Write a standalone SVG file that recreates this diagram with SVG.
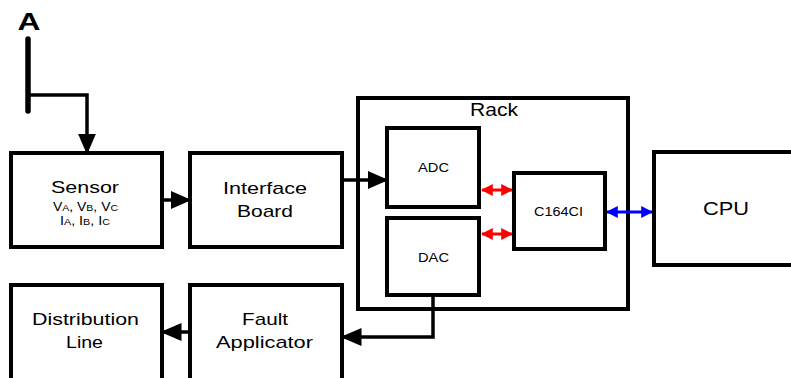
<svg xmlns="http://www.w3.org/2000/svg" width="791" height="378" viewBox="0 0 791 378">
<style>
.box{fill:#fff;stroke:#000;stroke-width:4}
.ln{fill:none;stroke:#000;stroke-width:3.5}
.t{font-family:"Liberation Sans",Arial,sans-serif;fill:#000;text-anchor:middle}
</style>
<defs>
<marker id="ah" markerWidth="6" markerHeight="6" refX="5" refY="3" orient="auto" markerUnits="strokeWidth"><path d="M0,0.4 L6,3 L0,5.6 z" fill="#000"/></marker>
<marker id="rh" viewBox="0 0 10 10" markerWidth="4" markerHeight="4" refX="9" refY="5" orient="auto-start-reverse" markerUnits="strokeWidth"><path d="M0,0 L10,5 L0,10 z" fill="#f00"/></marker>
<marker id="bh" viewBox="0 0 10 10" markerWidth="4" markerHeight="4" refX="9" refY="5" orient="auto-start-reverse" markerUnits="strokeWidth"><path d="M0,0 L10,5 L0,10 z" fill="#00f"/></marker>
</defs>
<rect width="791" height="378" fill="#fff"/>
<g id="source">
<text class="t" x="29" y="30" font-size="24" font-weight="bold" textLength="23" lengthAdjust="spacingAndGlyphs">A</text>
<line x1="28" y1="39" x2="28" y2="111" stroke="#000" stroke-width="5.5" stroke-linecap="round"/>
</g>
<g id="rack">
<rect class="box" x="358" y="98" width="270" height="211"/>
<text class="t" x="494" y="116" font-size="17.5" textLength="48" lengthAdjust="spacingAndGlyphs">Rack</text>
</g>
<g id="sensor">
<rect class="box" x="11" y="153" width="151" height="94"/>
<text class="t" x="85" y="193" font-size="17" textLength="68" lengthAdjust="spacingAndGlyphs">Sensor</text>
<text class="t" x="85.5" y="211" font-size="12" textLength="65" lengthAdjust="spacingAndGlyphs">V<tspan font-size="9">A</tspan>, V<tspan font-size="9">B</tspan>, V<tspan font-size="9">C</tspan></text>
<text class="t" x="85" y="225" font-size="12" textLength="50" lengthAdjust="spacingAndGlyphs">I<tspan font-size="9">A</tspan>, I<tspan font-size="9">B</tspan>, I<tspan font-size="9">C</tspan></text>
</g>
<g id="interface">
<rect class="box" x="190" y="153" width="152" height="94"/>
<text class="t" x="265" y="194" font-size="17" textLength="84" lengthAdjust="spacingAndGlyphs">Interface</text>
<text class="t" x="265" y="217" font-size="17" textLength="56" lengthAdjust="spacingAndGlyphs">Board</text>
</g>
<g id="adc">
<rect class="box" x="387" y="128" width="92" height="79"/>
<text class="t" x="433.5" y="172" font-size="12.5" textLength="31" lengthAdjust="spacingAndGlyphs">ADC</text>
</g>
<g id="dac">
<rect class="box" x="387" y="218" width="92" height="77"/>
<text class="t" x="433.5" y="262" font-size="12.5" textLength="31" lengthAdjust="spacingAndGlyphs">DAC</text>
</g>
<g id="c164ci">
<rect class="box" x="514" y="173" width="91" height="76"/>
<text class="t" x="558.5" y="216" font-size="12.5" textLength="49" lengthAdjust="spacingAndGlyphs">C164CI</text>
</g>
<g id="cpu">
<rect class="box" x="654" y="152" width="150" height="113"/>
<text class="t" x="726" y="215" font-size="19" textLength="46" lengthAdjust="spacingAndGlyphs">CPU</text>
</g>
<g id="distribution">
<rect class="box" x="11" y="285" width="151" height="100"/>
<text class="t" x="85.5" y="325" font-size="17" textLength="107" lengthAdjust="spacingAndGlyphs">Distribution</text>
<text class="t" x="84.5" y="348" font-size="17" textLength="37" lengthAdjust="spacingAndGlyphs">Line</text>
</g>
<g id="fault">
<rect class="box" x="190" y="285" width="152" height="100"/>
<text class="t" x="265" y="325" font-size="17" textLength="46" lengthAdjust="spacingAndGlyphs">Fault</text>
<text class="t" x="264.5" y="348" font-size="17" textLength="97" lengthAdjust="spacingAndGlyphs">Applicator</text>
</g>
<g id="connectors">
<path class="ln" d="M28,95 H87 V151" marker-end="url(#ah)"/>
<path class="ln" d="M162,200 H188" marker-end="url(#ah)"/>
<path class="ln" d="M342,180 H385" marker-end="url(#ah)"/>
<path class="ln" d="M433,295 V337 H344" marker-end="url(#ah)"/>
<path class="ln" d="M190,332 H164" marker-end="url(#ah)"/>
<line x1="482" y1="190" x2="512" y2="190" stroke="#f00" stroke-width="3" marker-start="url(#rh)" marker-end="url(#rh)"/>
<line x1="482" y1="234" x2="512" y2="234" stroke="#f00" stroke-width="3" marker-start="url(#rh)" marker-end="url(#rh)"/>
<line x1="607" y1="212" x2="652" y2="212" stroke="#00f" stroke-width="3" marker-start="url(#bh)" marker-end="url(#bh)"/>
</g>
</svg>
